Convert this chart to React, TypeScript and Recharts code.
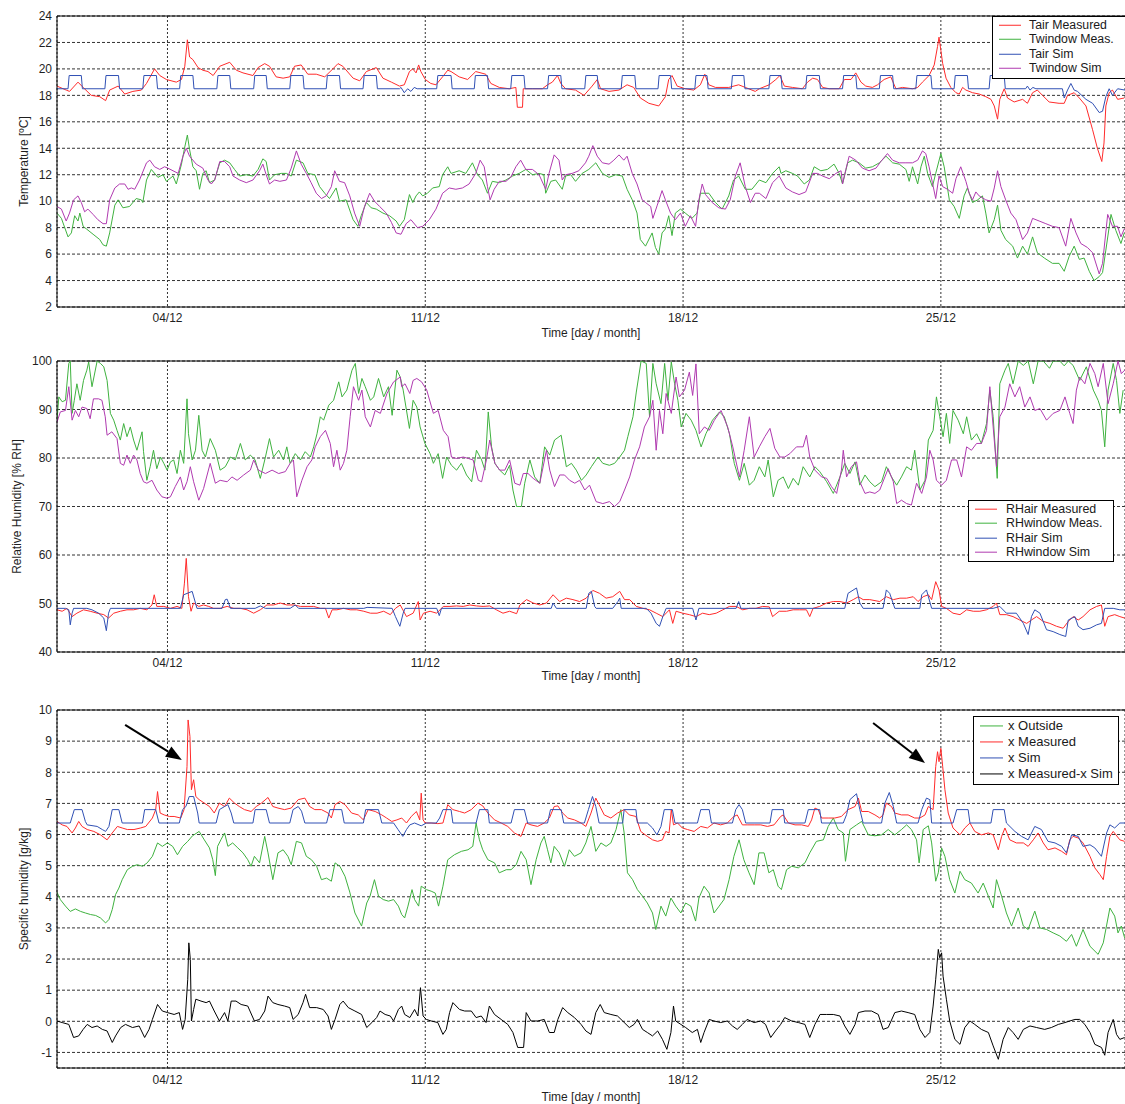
import { LineChart, Line, XAxis, YAxis, CartesianGrid, ReferenceLine, Legend } from 'recharts'

type Pt = [number, number]

const FONT = '"Liberation Sans", Arial, Helvetica, sans-serif'

const RED = '#ff2b2b'
const GREEN = '#3fb23f'
const BLUE = '#3050b4'
const PURPLE = '#b03ab0'
const BLACK = '#000000'

// time axis in days of December
const dayDomain: [number, number] = [1, 30]
const dayTicks = [4, 11, 18, 25]

const tempTicks = [2, 4, 6, 8, 10, 12, 14, 16, 18, 20, 22, 24]
const rhTicks = [40, 50, 60, 70, 80, 90, 100]
const shTicks = [-1, 0, 1, 2, 3, 4, 5, 6, 7, 8, 9, 10]

// ---- temperatures [ºC] ----
const tairMeas: Pt[] = [
  [1.00,18.7],[1.25,18.4],[1.34,18.3],[1.57,19.0],[1.71,18.6],[1.93,18.0],[2.16,17.9],[2.32,17.6],[2.43,18.4],[2.66,18.7],
  [2.84,18.1],[3.06,18.3],[3.29,18.4],[3.43,18.9],[3.65,20.0],[3.79,19.5],[3.97,19.2],[4.24,19.0],[4.38,19.2],[4.47,20.2],
  [4.54,22.2],[4.60,20.9],[4.69,20.7],[4.83,20.1],[4.96,19.9],[5.10,19.8],[5.24,19.5],[5.42,20.2],[5.69,20.5],[5.87,19.9],
  [6.05,19.7],[6.32,19.5],[6.46,20.1],[6.64,20.4],[6.77,20.2],[6.95,19.4],[7.14,19.3],[7.32,19.4],[7.45,20.2],[7.63,20.3],
  [7.81,19.6],[8.04,19.6],[8.27,19.4],[8.49,20.0],[8.63,20.4],[8.76,20.2],[9.04,19.3],[9.22,19.1],[9.40,19.8],[9.67,20.1],
  [9.85,19.3],[10.08,19.0],[10.30,18.7],[10.43,18.8],[10.57,19.8],[10.66,20.0],[10.75,19.7],[10.82,20.3],[10.88,19.8],[11.00,19.2],
  [11.15,18.9],[11.29,18.8],[11.47,19.4],[11.61,19.9],[11.70,19.8],[11.92,19.4],[12.15,19.2],[12.37,19.8],[12.64,19.6],[12.78,18.9],
  [13.01,18.6],[13.28,18.5],[13.46,18.6],[13.50,17.1],[13.64,17.1],[13.66,18.5],[13.91,18.5],[14.18,18.5],[14.32,18.8],[14.45,19.0],
  [14.59,19.5],[14.68,18.9],[14.81,18.5],[15.08,18.4],[15.31,18.0],[15.53,18.7],[15.67,19.2],[15.76,18.5],[15.99,18.3],[16.26,18.4],
  [16.48,18.8],[16.66,18.6],[16.84,17.8],[17.07,17.4],[17.34,17.2],[17.52,17.9],[17.61,19.2],[17.70,19.5],[17.84,18.7],[18.06,18.5],
  [18.29,18.4],[18.47,18.8],[18.59,19.6],[18.70,18.8],[18.88,18.6],[19.24,18.6],[19.51,18.8],[19.69,18.6],[19.96,18.3],[20.07,18.5],
  [20.34,18.8],[20.52,19.2],[20.63,19.5],[20.75,18.7],[20.97,18.6],[21.24,18.5],[21.38,19.0],[21.52,19.3],[21.65,19.2],[21.79,18.6],
  [21.97,18.5],[22.24,18.5],[22.38,19.2],[22.56,19.2],[22.69,19.7],[22.83,19.0],[22.96,18.7],[23.14,18.6],[23.28,18.8],[23.46,19.2],
  [23.64,19.4],[23.78,18.5],[23.96,18.6],[24.23,18.5],[24.37,18.6],[24.50,19.0],[24.68,19.5],[24.82,20.3],[24.91,21.7],[24.95,22.4],
  [25.00,21.4],[25.05,20.4],[25.14,19.3],[25.27,18.6],[25.41,18.2],[25.50,18.1],[25.59,18.6],[25.68,18.4],[25.86,18.2],[26.04,18.1],
  [26.22,17.9],[26.36,17.7],[26.45,17.2],[26.54,16.2],[26.60,17.7],[26.72,18.5],[26.81,17.8],[26.99,17.5],[27.22,17.7],[27.35,17.4],
  [27.49,18.2],[27.62,18.4],[27.76,18.0],[27.94,17.5],[28.21,17.4],[28.35,17.4],[28.44,18.0],[28.62,18.2],[28.76,17.8],[28.94,17.2],
  [29.12,15.4],[29.25,14.0],[29.37,13.0],[29.43,14.4],[29.48,17.2],[29.57,18.2],[29.66,18.4],[29.80,17.7],[29.98,17.8],
]

const twinMeas: Pt[] = [
  [1.00,9.1],[1.12,8.7],[1.30,7.3],[1.39,7.6],[1.48,8.9],[1.57,8.5],[1.62,9.1],[1.71,8.1],[1.80,7.9],[1.98,7.5],
  [2.16,7.1],[2.25,6.7],[2.34,6.6],[2.43,7.6],[2.57,9.7],[2.66,10.1],[2.79,9.5],[2.97,9.6],[3.15,10.2],[3.29,10.1],
  [3.33,9.9],[3.43,11.6],[3.56,12.4],[3.74,11.8],[3.88,12.0],[3.97,11.5],[4.15,11.9],[4.24,11.3],[4.38,12.8],[4.47,14.1],
  [4.54,15.0],[4.60,13.9],[4.69,12.6],[4.78,12.3],[4.87,10.9],[4.96,12.1],[5.05,12.3],[5.14,11.4],[5.28,11.6],[5.42,12.9],
  [5.55,13.1],[5.69,12.9],[5.82,12.4],[5.96,11.9],[6.14,12.0],[6.32,11.9],[6.46,12.4],[6.59,13.2],[6.68,13.0],[6.77,11.6],
  [6.91,12.0],[7.09,12.1],[7.23,12.1],[7.36,11.9],[7.50,13.1],[7.68,12.9],[7.81,12.1],[8.00,12.0],[8.13,11.1],[8.27,10.6],
  [8.40,10.2],[8.58,11.0],[8.67,10.0],[8.85,10.1],[9.04,8.6],[9.17,8.1],[9.26,8.9],[9.40,9.9],[9.53,9.5],[9.67,9.4],
  [9.85,9.1],[10.03,8.9],[10.21,8.5],[10.30,8.1],[10.43,8.6],[10.57,10.5],[10.66,9.9],[10.75,10.4],[10.84,10.7],[10.93,10.4],
  [11.06,10.6],[11.20,11.0],[11.38,11.1],[11.47,12.0],[11.61,12.6],[11.70,12.1],[11.92,12.3],[12.10,12.1],[12.28,12.9],[12.42,12.0],
  [12.55,11.6],[12.69,10.6],[12.82,11.5],[13.01,11.4],[13.19,11.6],[13.37,11.9],[13.55,12.1],[13.73,12.4],[13.91,12.0],[14.09,12.1],
  [14.22,12.0],[14.27,10.6],[14.41,11.5],[14.54,11.6],[14.72,10.9],[14.81,11.9],[14.95,12.0],[15.08,11.5],[15.26,12.1],[15.44,12.4],
  [15.63,12.9],[15.81,12.1],[15.99,11.8],[16.17,12.0],[16.35,11.9],[16.48,10.9],[16.62,10.1],[16.75,9.1],[16.84,7.1],[16.98,6.6],
  [17.16,7.6],[17.25,6.5],[17.34,6.0],[17.43,7.6],[17.52,7.9],[17.61,8.9],[17.70,7.4],[17.79,9.1],[17.93,9.4],[18.06,9.1],
  [18.24,8.7],[18.38,9.1],[18.47,10.6],[18.70,10.6],[18.88,9.9],[19.06,9.4],[19.24,10.4],[19.37,11.6],[19.51,11.9],[19.69,10.9],
  [19.87,10.9],[20.07,11.6],[20.25,11.4],[20.43,12.1],[20.61,12.6],[20.66,12.1],[20.79,12.3],[20.97,12.1],[21.11,11.9],[21.29,11.3],
  [21.43,11.6],[21.56,12.6],[21.74,12.3],[21.92,12.4],[22.10,12.8],[22.24,12.1],[22.33,11.3],[22.47,12.9],[22.60,13.1],[22.78,12.9],
  [22.96,12.5],[23.14,12.6],[23.33,12.9],[23.51,13.4],[23.69,12.9],[23.87,12.8],[24.05,12.4],[24.14,11.5],[24.23,12.6],[24.37,11.3],
  [24.46,12.6],[24.55,13.4],[24.64,12.1],[24.77,11.1],[24.86,12.1],[25.00,13.6],[25.09,12.6],[25.23,10.1],[25.36,9.6],[25.50,8.7],
  [25.63,10.4],[25.72,11.0],[25.86,9.9],[26.00,10.1],[26.13,10.4],[26.22,9.1],[26.31,7.6],[26.45,8.6],[26.54,9.7],[26.63,7.8],
  [26.76,7.1],[26.95,6.6],[27.08,5.7],[27.22,6.6],[27.35,6.0],[27.49,7.3],[27.62,6.1],[27.81,5.7],[28.03,5.3],[28.21,5.3],
  [28.35,4.7],[28.48,5.8],[28.62,6.6],[28.76,5.6],[28.89,5.7],[29.03,4.7],[29.16,4.0],[29.30,4.3],[29.39,4.6],[29.48,6.3],
  [29.62,9.0],[29.75,7.8],[29.89,6.8],[29.98,7.6],
]

// simulated air temperature: heating set-point periods plus free-running stretches
const tairSimLow = 18.5
const tairSimHigh = 19.5
const tairSimHeating: Pt[] = [
  [1.30,1.66],[2.30,2.67],[3.33,3.70],[4.33,4.69],[5.34,5.69],[6.34,6.68],[7.32,7.68],[8.31,8.67],[9.31,9.67],
  [11.31,11.70],[12.33,12.69],[13.32,13.68],[14.32,14.68],[15.33,15.67],[16.32,16.69],[17.32,17.66],[18.32,18.65],
  [19.31,19.65],[20.33,20.66],[21.33,21.70],[22.33,22.69],[23.33,23.69],[24.32,24.73],[25.36,25.72],[26.31,26.72],
]
const tairSimFree: Pt[] = [
  [1.00,18.5],[10.30,18.5],[10.34,18.6],[10.43,18.2],[10.52,18.5],[10.61,18.3],[10.70,18.6],[10.78,18.5],
  [27.30,18.5],[27.35,18.7],[27.42,18.4],[27.50,18.6],[27.58,18.5],[28.30,18.5],[28.35,17.8],[28.44,18.4],
  [28.53,18.9],[28.62,18.4],[28.71,18.3],[28.94,17.7],[29.12,17.4],[29.30,16.7],[29.39,16.8],[29.48,17.9],
  [29.57,18.5],[29.66,18.0],[29.80,18.5],[30.00,18.4],
]

const twinSim: Pt[] = [
  [1.00,9.6],[1.12,9.4],[1.25,8.5],[1.34,9.1],[1.45,10.1],[1.57,10.4],[1.66,9.9],[1.75,9.2],[1.84,9.4],[1.98,9.0],
  [2.11,8.6],[2.25,8.3],[2.34,8.3],[2.43,10.1],[2.57,11.0],[2.70,11.3],[2.84,11.3],[2.93,10.9],[3.02,11.0],[3.11,10.9],
  [3.24,11.6],[3.43,12.9],[3.52,13.1],[3.65,12.6],[3.79,12.4],[3.92,12.6],[4.01,12.5],[4.15,12.3],[4.29,12.1],[4.42,13.4],
  [4.51,14.0],[4.60,13.4],[4.78,12.8],[4.96,12.5],[5.10,11.6],[5.19,11.3],[5.28,11.6],[5.42,13.0],[5.55,13.0],[5.69,12.6],
  [5.78,11.9],[5.96,11.6],[6.14,11.4],[6.32,11.6],[6.50,12.3],[6.59,12.8],[6.68,12.0],[6.77,11.3],[6.91,11.6],[7.05,11.5],
  [7.23,11.6],[7.36,12.5],[7.50,13.8],[7.63,12.8],[7.77,12.1],[7.90,11.4],[8.04,10.6],[8.18,10.2],[8.31,10.4],[8.45,11.1],
  [8.54,12.3],[8.67,11.5],[8.81,11.4],[8.95,10.4],[9.08,9.1],[9.22,8.1],[9.35,9.6],[9.49,10.6],[9.62,10.0],[9.76,9.6],
  [9.94,9.1],[10.08,8.4],[10.21,7.6],[10.34,7.5],[10.48,8.3],[10.61,8.6],[10.79,8.0],[10.93,8.1],[11.11,8.6],[11.29,9.4],
  [11.47,10.6],[11.65,11.0],[11.83,10.9],[12.01,11.0],[12.19,11.3],[12.37,12.1],[12.49,13.1],[12.60,12.6],[12.69,11.1],[12.76,10.1],
  [12.87,10.9],[13.01,11.5],[13.19,11.5],[13.32,11.8],[13.46,12.6],[13.59,13.1],[13.73,12.4],[13.91,12.4],[14.09,12.0],[14.27,10.9],
  [14.36,12.1],[14.50,13.5],[14.63,13.1],[14.72,11.6],[14.81,12.0],[14.99,12.1],[15.17,12.3],[15.35,12.9],[15.44,13.4],[15.55,14.2],
  [15.67,13.4],[15.81,12.9],[15.99,12.8],[16.12,13.1],[16.26,13.5],[16.39,13.1],[16.48,13.4],[16.62,12.1],[16.75,11.3],[16.89,10.1],
  [16.98,9.9],[17.12,9.6],[17.18,8.7],[17.30,9.7],[17.43,10.8],[17.52,10.1],[17.66,9.1],[17.79,8.6],[17.93,9.1],[18.06,8.1],
  [18.20,8.9],[18.34,8.1],[18.43,10.1],[18.52,11.3],[18.61,10.5],[18.79,9.9],[18.97,9.5],[19.15,9.4],[19.28,10.1],[19.42,11.9],
  [19.55,12.9],[19.69,11.1],[19.83,9.9],[19.96,10.6],[20.07,10.6],[20.25,10.2],[20.43,11.4],[20.61,11.9],[20.79,11.0],[20.97,10.7],
  [21.15,10.5],[21.33,10.7],[21.52,12.1],[21.65,12.1],[21.79,11.9],[21.97,11.7],[22.15,12.1],[22.29,12.3],[22.33,11.3],[22.42,12.4],
  [22.51,13.4],[22.69,13.1],[22.87,12.5],[23.05,12.3],[23.24,12.5],[23.37,13.0],[23.55,13.6],[23.69,13.1],[23.87,12.9],[24.05,12.9],
  [24.23,12.9],[24.37,13.1],[24.50,13.8],[24.59,13.6],[24.68,12.6],[24.77,11.4],[24.86,10.2],[24.95,11.9],[25.05,11.1],[25.18,10.9],
  [25.32,10.6],[25.41,11.7],[25.54,12.6],[25.68,11.5],[25.77,10.6],[25.86,10.1],[25.95,10.7],[26.04,10.4],[26.22,10.1],[26.36,10.0],
  [26.45,11.0],[26.54,12.3],[26.63,11.1],[26.76,10.1],[26.90,9.1],[27.04,8.6],[27.22,7.1],[27.35,7.6],[27.49,8.7],[27.67,8.5],
  [27.85,8.3],[28.03,8.1],[28.21,8.0],[28.39,6.6],[28.53,8.7],[28.67,7.6],[28.80,6.8],[28.98,6.5],[29.12,6.1],[29.30,4.5],
  [29.39,5.3],[29.53,9.0],[29.66,8.1],[29.80,8.1],[29.89,7.3],[29.98,7.9],
]

// ---- relative humidity [% RH] ----
const rhAirMeas: Pt[] = [
  [1.00,48.7],[1.14,48.4],[1.27,49.0],[1.41,47.3],[1.54,48.0],[1.72,48.7],[1.90,48.4],[2.09,48.0],[2.27,47.7],[2.40,47.0],
  [2.54,48.0],[2.72,48.4],[2.90,48.7],[3.08,48.7],[3.26,49.0],[3.44,48.7],[3.58,49.7],[3.64,51.8],[3.71,49.4],[3.90,49.4],
  [4.08,49.0],[4.26,49.4],[4.39,49.0],[4.46,54.2],[4.51,59.3],[4.57,51.4],[4.64,48.4],[4.71,50.1],[4.85,49.4],[4.98,49.7],
  [5.12,49.4],[5.25,49.0],[5.43,49.0],[5.62,49.4],[5.80,49.0],[5.98,49.0],[6.16,48.7],[6.34,48.0],[6.52,48.7],[6.70,49.7],
  [6.88,49.7],[7.06,50.1],[7.24,49.7],[7.43,49.7],[7.61,49.4],[7.79,49.4],[7.97,49.4],[8.15,49.0],[8.29,49.0],[8.38,47.0],
  [8.47,48.7],[8.60,48.7],[8.78,49.0],[8.96,48.7],[9.14,48.7],[9.33,48.4],[9.51,48.0],[9.69,48.0],[9.87,48.4],[10.05,47.7],
  [10.19,49.0],[10.32,49.7],[10.49,47.3],[10.67,48.0],[10.81,50.4],[10.86,46.6],[10.95,48.0],[11.13,48.4],[11.31,48.0],[11.49,49.4],
  [11.67,49.4],[11.85,49.5],[12.03,49.4],[12.21,49.7],[12.39,49.5],[12.57,49.4],[12.75,49.5],[12.93,48.7],[13.11,48.0],[13.29,48.4],
  [13.48,47.9],[13.57,49.7],[13.75,50.8],[13.93,50.1],[14.11,49.7],[14.29,50.1],[14.47,51.8],[14.65,50.4],[14.83,51.1],[15.01,50.8],
  [15.19,50.4],[15.37,51.1],[15.55,52.7],[15.73,52.1],[15.91,51.1],[16.09,51.4],[16.28,52.5],[16.41,50.8],[16.55,50.8],[16.73,49.4],
  [16.91,49.0],[17.09,48.7],[17.27,48.0],[17.45,47.3],[17.63,48.7],[17.72,45.9],[17.81,48.4],[17.99,48.0],[18.17,47.7],[18.35,47.3],
  [18.53,48.0],[18.71,47.7],[18.90,48.0],[19.08,48.7],[19.26,49.4],[19.44,49.4],[19.62,48.7],[19.80,49.0],[19.98,49.0],[20.16,49.4],
  [20.34,49.3],[20.43,47.3],[20.61,48.4],[20.81,48.4],[20.99,48.7],[21.17,48.7],[21.35,48.7],[21.44,47.3],[21.53,49.0],[21.71,49.4],
  [21.90,50.1],[22.08,50.4],[22.26,50.4],[22.44,50.1],[22.62,50.8],[22.76,51.4],[22.89,50.8],[23.07,50.8],[23.34,50.4],[23.52,51.4],
  [23.71,50.8],[23.89,51.1],[24.07,51.1],[24.25,51.4],[24.38,50.4],[24.52,51.4],[24.66,51.8],[24.75,50.8],[24.86,54.5],[24.95,52.8],
  [25.02,49.4],[25.15,49.0],[25.33,48.0],[25.52,47.7],[25.70,48.7],[25.88,48.4],[26.06,48.4],[26.24,48.7],[26.42,49.4],[26.51,50.1],
  [26.60,47.7],[26.78,47.7],[26.96,47.3],[27.14,46.6],[27.33,45.9],[27.46,46.6],[27.60,47.3],[27.78,46.3],[27.96,45.9],[28.14,45.3],
  [28.32,44.9],[28.46,46.3],[28.59,47.3],[28.73,46.6],[28.86,47.3],[29.05,48.7],[29.23,49.4],[29.36,49.7],[29.45,45.3],[29.54,47.3],
  [29.72,47.7],[29.86,47.3],[29.99,47.0],
]

const rhWinMeas: Pt[] = [
  [1.00,87.8],[1.05,92.6],[1.14,91.6],[1.23,91.9],[1.32,99.5],[1.36,100],[1.41,89.2],[1.47,91.9],[1.54,95.3],[1.63,91.9],
  [1.72,96.0],[1.81,98.1],[1.86,99.8],[1.95,94.7],[2.09,100],[2.18,99.5],[2.27,98.8],[2.36,96.0],[2.45,89.2],[2.54,87.8],
  [2.63,85.7],[2.72,83.7],[2.81,87.1],[2.90,84.4],[2.99,86.4],[3.08,83.7],[3.17,81.6],[3.31,85.4],[3.35,81.3],[3.44,75.4],
  [3.53,78.2],[3.62,81.6],[3.71,77.8],[3.81,80.2],[3.90,78.9],[3.99,77.5],[4.08,79.2],[4.17,79.6],[4.26,76.8],[4.35,81.6],
  [4.44,78.9],[4.53,92.2],[4.57,85.0],[4.67,79.6],[4.76,81.6],[4.85,88.8],[4.94,81.6],[5.03,80.2],[5.16,84.0],[5.30,81.6],
  [5.43,77.5],[5.57,78.2],[5.71,80.2],[5.84,79.6],[5.98,83.0],[6.11,79.6],[6.25,80.6],[6.38,79.6],[6.52,75.8],[6.66,80.2],
  [6.77,84.0],[6.88,80.2],[7.02,81.6],[7.15,79.6],[7.24,82.3],[7.33,78.9],[7.47,80.9],[7.61,79.6],[7.74,81.3],[7.88,80.2],
  [7.97,82.3],[8.06,85.0],[8.15,88.5],[8.24,87.8],[8.38,90.9],[8.51,91.9],[8.65,95.7],[8.74,92.6],[8.87,94.0],[9.01,98.1],
  [9.10,99.5],[9.19,93.3],[9.28,96.4],[9.37,94.7],[9.51,91.9],[9.60,92.6],[9.73,96.4],[9.87,92.6],[10.00,94.7],[10.10,88.8],
  [10.23,98.1],[10.32,96.7],[10.40,94.0],[10.57,86.1],[10.67,91.9],[10.77,90.5],[10.86,86.4],[10.99,83.0],[11.13,80.9],[11.22,78.9],
  [11.35,80.9],[11.47,75.8],[11.58,80.2],[11.71,78.5],[11.85,77.5],[11.98,78.9],[12.12,76.5],[12.26,75.1],[12.39,81.6],[12.53,79.6],
  [12.62,77.5],[12.71,89.5],[12.80,82.3],[12.89,78.9],[13.02,77.5],[13.16,76.5],[13.29,78.5],[13.38,73.4],[13.48,70.0],[13.61,70.0],
  [13.70,74.8],[13.84,79.6],[13.97,76.1],[14.11,74.8],[14.24,82.3],[14.38,80.6],[14.51,83.7],[14.69,84.7],[14.83,78.2],[14.97,78.9],
  [15.10,77.5],[15.24,75.4],[15.37,76.5],[15.51,78.2],[15.69,80.2],[15.82,78.9],[16.00,78.5],[16.14,78.9],[16.28,80.2],[16.41,81.6],
  [16.50,84.4],[16.64,88.5],[16.73,93.6],[16.86,100],[17.00,99.5],[17.09,88.5],[17.18,99.5],[17.27,95.3],[17.40,91.2],[17.50,99.5],
  [17.59,91.9],[17.68,99.8],[17.77,95.3],[17.86,91.9],[17.95,86.4],[18.08,89.2],[18.22,87.8],[18.35,85.7],[18.49,82.3],[18.62,85.0],
  [18.80,87.8],[18.99,89.5],[19.12,88.5],[19.26,85.0],[19.39,78.9],[19.53,75.4],[19.66,78.9],[19.80,74.4],[19.93,75.4],[20.07,78.2],
  [20.22,76.1],[20.31,79.6],[20.45,72.0],[20.58,75.4],[20.72,76.1],[20.86,73.7],[20.99,75.8],[21.13,74.4],[21.26,78.2],[21.44,76.1],
  [21.58,78.2],[21.71,77.2],[21.90,75.1],[22.08,72.7],[22.26,76.1],[22.39,78.9],[22.53,76.8],[22.67,79.2],[22.80,74.4],[22.94,76.5],
  [23.07,75.1],[23.21,74.1],[23.39,75.1],[23.52,78.2],[23.66,76.1],[23.80,74.4],[23.93,76.1],[24.07,78.2],[24.20,77.5],[24.29,81.6],
  [24.43,73.4],[24.57,75.4],[24.66,83.7],[24.79,85.7],[24.88,92.6],[24.97,88.5],[25.06,84.4],[25.15,89.2],[25.24,83.0],[25.33,89.8],
  [25.47,87.8],[25.61,85.0],[25.70,88.5],[25.83,83.7],[25.97,85.0],[26.10,83.0],[26.24,87.1],[26.33,94.0],[26.42,88.5],[26.53,75.8],
  [26.60,95.3],[26.74,98.1],[26.83,99.5],[26.96,95.3],[27.10,100],[27.24,99.1],[27.37,100],[27.51,95.3],[27.64,100],[27.78,100],
  [27.95,98.5],[28.05,100],[28.23,100],[28.35,99.0],[28.46,100],[28.59,99.1],[28.77,96.0],[28.95,98.8],[29.14,94.0],[29.27,91.9],
  [29.36,89.8],[29.45,82.3],[29.54,94.0],[29.68,99.5],[29.77,96.0],[29.86,89.2],[29.95,94.0],
]

const rhAirSim: Pt[] = [
  [1.00,49.0],[1.23,49.0],[1.32,48.7],[1.36,45.6],[1.41,48.0],[1.45,49.0],[1.81,49.0],[1.95,48.7],[2.13,48.0],[2.27,47.0],
  [2.34,44.4],[2.40,48.0],[2.45,49.0],[4.35,49.0],[4.44,51.8],[4.67,52.5],[4.76,50.1],[4.80,49.0],[5.48,49.0],[5.57,50.8],
  [5.62,50.9],[5.71,49.0],[6.38,49.0],[6.52,49.5],[6.66,49.0],[7.33,49.0],[7.47,49.7],[7.56,49.0],[9.33,49.0],[9.42,49.2],
  [10.10,49.0],[10.19,47.3],[10.31,45.3],[10.40,48.0],[10.45,49.0],[11.31,49.0],[11.38,47.5],[11.44,49.0],[14.42,49.0],[14.47,50.1],
  [14.56,49.0],[15.37,49.0],[15.44,52.1],[15.51,52.5],[15.60,49.4],[15.64,49.0],[16.09,49.0],[16.23,50.4],[16.28,51.1],[16.32,49.0],
  [17.00,49.0],[17.13,48.0],[17.27,45.9],[17.36,45.3],[17.45,47.3],[17.54,49.0],[18.26,49.0],[18.35,46.6],[18.43,49.0],[19.44,49.0],
  [19.51,50.4],[19.57,49.0],[22.39,49.0],[22.48,52.1],[22.71,53.2],[22.80,50.1],[22.89,49.0],[23.43,49.0],[23.52,52.8],[23.61,52.1],
  [23.75,49.0],[24.43,49.0],[24.48,51.8],[24.61,52.8],[24.75,49.0],[26.42,49.0],[26.60,49.4],[26.78,48.0],[27.05,48.0],[27.24,45.9],
  [27.37,43.6],[27.46,47.3],[27.55,48.7],[27.69,48.0],[27.87,44.6],[28.05,44.2],[28.23,43.6],[28.39,43.2],[28.46,46.6],[28.64,47.3],
  [28.73,45.3],[28.86,44.6],[29.05,44.9],[29.23,45.6],[29.36,45.9],[29.45,49.0],[29.68,49.0],[29.86,48.7],[29.99,48.7],
]

const rhWinSim: Pt[] = [
  [1.00,87.4],[1.09,89.5],[1.23,89.8],[1.32,94.7],[1.41,87.8],[1.50,89.8],[1.59,88.5],[1.68,90.5],[1.81,90.2],[1.90,88.1],
  [1.99,92.2],[2.13,92.2],[2.22,91.9],[2.31,88.5],[2.36,84.7],[2.49,85.4],[2.63,84.0],[2.72,78.9],[2.81,78.5],[2.90,80.6],
  [2.99,78.9],[3.08,80.6],[3.17,79.6],[3.26,76.8],[3.35,75.1],[3.44,74.8],[3.58,75.4],[3.71,73.4],[3.85,72.0],[3.99,71.7],
  [4.08,72.0],[4.21,74.1],[4.35,76.1],[4.44,73.4],[4.53,75.1],[4.62,78.2],[4.71,75.1],[4.85,71.3],[4.98,73.7],[5.16,78.9],
  [5.30,74.8],[5.43,75.4],[5.62,75.1],[5.75,76.1],[5.89,75.4],[6.07,76.5],[6.25,77.5],[6.34,79.6],[6.47,77.5],[6.66,76.8],
  [6.84,77.5],[7.02,76.8],[7.20,77.2],[7.33,78.9],[7.42,79.6],[7.51,72.0],[7.65,75.4],[7.79,78.2],[7.92,79.6],[8.01,82.3],
  [8.15,84.4],[8.29,85.7],[8.42,83.0],[8.51,78.2],[8.60,81.6],[8.69,77.5],[8.78,78.9],[8.87,81.6],[8.96,88.5],[9.05,94.7],
  [9.19,91.9],[9.28,94.0],[9.37,88.5],[9.51,86.4],[9.64,89.8],[9.78,89.2],[9.96,93.3],[10.14,95.7],[10.32,96.7],[10.36,94.7],
  [10.45,95.3],[10.58,93.3],[10.67,96.0],[10.77,96.4],[10.90,95.7],[11.04,94.0],[11.22,89.2],[11.35,89.8],[11.49,85.7],[11.62,84.4],
  [11.71,80.2],[11.85,79.9],[12.03,80.2],[12.17,79.9],[12.30,79.6],[12.44,75.4],[12.53,75.1],[12.66,79.6],[12.75,83.7],[12.89,78.9],
  [13.02,77.5],[13.16,77.5],[13.29,79.6],[13.43,74.8],[13.57,74.4],[13.66,76.8],[13.79,76.8],[13.93,75.8],[14.11,74.8],[14.29,81.6],
  [14.38,77.5],[14.51,74.1],[14.65,76.5],[14.78,76.5],[14.92,75.4],[15.06,74.8],[15.19,75.4],[15.33,73.4],[15.46,74.4],[15.64,71.0],
  [15.82,70.6],[16.00,71.0],[16.14,70.0],[16.28,71.0],[16.41,73.4],[16.55,76.1],[16.68,79.6],[16.82,82.3],[16.95,86.4],[17.09,88.5],
  [17.18,91.9],[17.27,81.6],[17.36,89.8],[17.45,85.0],[17.54,93.3],[17.68,89.2],[17.81,96.7],[17.90,92.6],[18.04,94.0],[18.17,97.7],
  [18.26,92.9],[18.35,99.4],[18.44,85.0],[18.58,86.4],[18.71,85.7],[18.85,87.8],[19.03,89.8],[19.21,86.4],[19.35,82.3],[19.53,76.1],
  [19.66,81.6],[19.80,88.5],[19.93,80.2],[20.07,82.3],[20.22,84.4],[20.36,86.1],[20.49,82.0],[20.63,80.2],[20.76,80.2],[20.90,80.9],
  [21.08,82.3],[21.26,82.3],[21.35,84.7],[21.44,80.2],[21.58,77.5],[21.76,76.1],[21.90,75.8],[22.03,74.1],[22.17,72.7],[22.30,77.5],
  [22.35,81.6],[22.44,76.1],[22.57,78.2],[22.71,79.2],[22.80,75.1],[22.94,72.7],[23.07,73.0],[23.21,72.7],[23.34,73.4],[23.48,76.1],
  [23.57,77.8],[23.71,75.1],[23.80,70.6],[23.93,71.3],[24.07,70.6],[24.20,70.3],[24.34,74.8],[24.48,72.7],[24.61,76.1],[24.70,81.6],
  [24.79,79.6],[24.88,75.4],[25.02,74.4],[25.15,75.4],[25.29,79.6],[25.43,79.6],[25.56,76.1],[25.70,82.3],[25.83,81.6],[25.97,83.0],
  [26.10,83.0],[26.24,85.7],[26.33,94.7],[26.42,86.4],[26.51,78.2],[26.60,88.5],[26.74,90.5],[26.87,95.3],[27.01,92.6],[27.14,94.7],
  [27.28,90.5],[27.42,92.6],[27.55,89.8],[27.69,90.2],[27.87,87.8],[28.05,89.2],[28.23,89.8],[28.37,92.6],[28.50,89.2],[28.59,87.1],
  [28.68,94.0],[28.77,96.7],[28.91,95.3],[29.05,99.5],[29.18,97.4],[29.27,94.7],[29.41,99.5],[29.54,91.2],[29.68,95.3],[29.81,100],
  [29.90,97.4],[29.99,98.1],
]

// ---- specific humidity [g/kg] ----
const xOutside: Pt[] = [
  [1.00,4.15],[1.09,3.91],[1.23,3.70],[1.36,3.53],[1.50,3.61],[1.64,3.53],[1.77,3.48],[1.91,3.43],[2.05,3.40],[2.18,3.32],
  [2.32,3.16],[2.41,3.27],[2.50,3.59],[2.59,4.07],[2.68,4.28],[2.77,4.55],[2.91,4.87],[3.05,4.98],[3.18,5.03],[3.32,4.98],
  [3.45,5.09],[3.59,5.30],[3.73,5.73],[3.86,5.62],[4.00,5.73],[4.14,5.62],[4.27,5.35],[4.41,5.62],[4.55,5.78],[4.68,5.96],
  [4.86,6.10],[5.00,5.83],[5.14,5.57],[5.23,5.19],[5.30,4.68],[5.36,5.62],[5.45,5.83],[5.55,6.05],[5.64,5.62],[5.77,5.73],
  [5.91,5.57],[6.05,5.41],[6.18,5.19],[6.27,4.98],[6.36,5.30],[6.50,5.09],[6.64,5.94],[6.73,5.41],[6.86,4.55],[7.00,5.41],
  [7.14,5.51],[7.27,5.30],[7.36,5.03],[7.50,5.78],[7.64,5.73],[7.77,5.30],[7.91,5.19],[8.05,4.98],[8.18,4.55],[8.32,4.60],
  [8.45,4.50],[8.55,5.09],[8.68,4.98],[8.82,4.66],[8.95,4.15],[9.09,3.48],[9.27,3.06],[9.41,3.80],[9.50,4.02],[9.62,4.55],
  [9.73,4.02],[9.86,3.91],[10.00,3.86],[10.14,3.91],[10.27,3.70],[10.36,3.43],[10.44,3.32],[10.53,3.70],[10.64,4.23],[10.71,3.91],
  [10.82,3.70],[10.89,4.34],[11.03,4.23],[11.16,4.18],[11.27,4.12],[11.36,3.70],[11.48,4.34],[11.61,5.19],[11.79,5.35],[11.98,5.46],
  [12.16,5.51],[12.29,5.62],[12.38,6.37],[12.47,5.83],[12.56,5.51],[12.70,5.19],[12.88,5.09],[13.01,4.77],[13.20,4.87],[13.33,4.87],
  [13.47,5.03],[13.60,5.46],[13.74,5.19],[13.87,4.39],[14.01,5.19],[14.14,5.73],[14.23,5.94],[14.32,5.51],[14.41,5.09],[14.50,5.62],
  [14.64,5.41],[14.78,4.98],[14.91,5.51],[15.05,5.30],[15.23,5.41],[15.36,5.73],[15.50,6.26],[15.63,5.46],[15.77,5.73],[15.91,5.62],
  [16.04,5.73],[16.18,6.16],[16.31,6.80],[16.40,6.05],[16.49,4.77],[16.63,4.55],[16.76,4.23],[16.90,4.02],[17.03,3.80],[17.17,3.48],
  [17.26,2.95],[17.40,3.70],[17.53,3.38],[17.67,3.96],[17.80,3.70],[17.94,3.48],[18.07,3.80],[18.21,3.70],[18.34,3.22],[18.43,3.96],
  [18.57,4.34],[18.71,4.12],[18.84,3.48],[18.98,3.70],[19.11,3.91],[19.25,4.55],[19.38,5.30],[19.52,5.83],[19.65,5.19],[19.79,4.77],
  [19.93,4.39],[20.06,5.41],[20.20,5.41],[20.33,4.77],[20.45,4.87],[20.58,4.34],[20.67,4.23],[20.81,4.87],[20.95,4.98],[21.13,4.93],
  [21.31,5.09],[21.44,5.41],[21.62,5.78],[21.81,5.83],[21.94,6.26],[22.08,6.53],[22.21,6.16],[22.35,6.05],[22.41,5.14],[22.53,6.16],
  [22.71,6.31],[22.85,6.42],[23.03,5.99],[23.21,5.96],[23.39,5.99],[23.57,6.16],[23.75,5.99],[23.93,6.16],[24.07,6.31],[24.20,6.16],
  [24.34,5.83],[24.41,5.09],[24.52,6.16],[24.66,6.28],[24.75,5.73],[24.86,4.50],[24.93,4.77],[25.02,5.57],[25.11,5.30],[25.24,4.55],
  [25.38,4.12],[25.52,4.82],[25.65,4.55],[25.83,4.44],[26.01,4.12],[26.15,4.44],[26.29,4.02],[26.42,3.64],[26.51,4.55],[26.65,4.02],
  [26.78,3.48],[26.92,3.06],[27.10,3.64],[27.24,3.06],[27.37,2.95],[27.55,3.54],[27.69,3.00],[27.87,2.95],[28.05,2.84],[28.23,2.74],
  [28.41,2.57],[28.55,2.79],[28.68,2.41],[28.86,2.95],[29.05,2.41],[29.27,2.15],[29.41,2.52],[29.59,3.64],[29.72,3.38],[29.81,2.84],
  [29.90,3.06],[29.99,2.68],
]

const xMeas: Pt[] = [
  [1.00,6.42],[1.14,6.31],[1.27,6.26],[1.41,6.05],[1.50,6.21],[1.59,6.42],[1.68,6.26],[1.82,6.16],[2.00,6.10],[2.18,5.99],
  [2.36,5.83],[2.50,6.05],[2.64,6.26],[2.77,6.21],[2.91,6.16],[3.09,6.16],[3.27,6.21],[3.41,6.26],[3.59,6.53],[3.68,6.80],
  [3.73,7.38],[3.80,6.69],[3.91,6.63],[4.05,6.58],[4.18,6.58],[4.36,6.53],[4.45,6.80],[4.53,8.18],[4.56,9.68],[4.61,9.15],
  [4.65,7.44],[4.71,7.76],[4.77,7.22],[4.86,7.12],[5.00,7.01],[5.14,6.90],[5.27,6.69],[5.41,7.01],[5.55,6.90],[5.68,7.17],
  [5.82,7.01],[5.95,6.90],[6.09,6.80],[6.27,6.74],[6.41,6.90],[6.55,7.01],[6.73,7.19],[6.86,6.90],[7.00,6.85],[7.18,6.80],
  [7.36,6.85],[7.55,7.12],[7.73,7.17],[7.86,6.90],[8.00,6.80],[8.18,6.80],[8.36,6.69],[8.45,6.53],[8.55,6.96],[8.68,7.06],
  [8.82,6.96],[9.00,6.69],[9.18,6.63],[9.32,6.47],[9.45,6.80],[9.64,6.74],[9.82,6.63],[9.95,6.53],[10.09,6.42],[10.23,6.47],
  [10.36,6.53],[10.49,6.37],[10.62,6.58],[10.76,6.74],[10.85,6.47],[10.89,7.33],[10.94,6.47],[11.00,6.37],[11.16,6.37],[11.34,6.35],
  [11.48,6.37],[11.61,6.96],[11.75,6.80],[11.93,6.74],[12.07,6.69],[12.25,6.80],[12.43,7.01],[12.56,6.92],[12.70,6.69],[12.88,6.47],
  [13.06,6.37],[13.24,6.26],[13.42,6.05],[13.60,5.94],[13.74,6.37],[13.87,6.31],[14.05,6.26],[14.23,6.37],[14.37,6.53],[14.50,6.90],
  [14.60,6.92],[14.73,6.69],[14.87,6.53],[15.05,6.47],[15.23,6.37],[15.36,6.26],[15.50,6.69],[15.63,7.17],[15.72,6.96],[15.86,6.63],
  [16.04,6.53],[16.22,6.69],[16.40,6.80],[16.54,6.63],[16.72,6.58],[16.85,6.10],[17.03,5.94],[17.17,5.83],[17.31,5.78],[17.44,5.83],
  [17.53,6.10],[17.62,6.05],[17.68,6.80],[17.74,6.31],[17.85,6.37],[17.98,6.21],[18.12,6.16],[18.30,6.10],[18.48,6.26],[18.66,6.21],
  [18.84,6.37],[19.02,6.31],[19.20,6.37],[19.38,6.58],[19.47,6.63],[19.61,6.31],[19.74,6.31],[19.93,6.31],[20.11,6.31],[20.29,6.26],
  [20.47,6.31],[20.65,6.58],[20.72,6.63],[20.86,6.37],[21.04,6.31],[21.22,6.31],[21.40,6.26],[21.49,6.47],[21.58,6.85],[21.67,6.80],
  [21.76,6.53],[21.94,6.53],[22.12,6.53],[22.30,6.58],[22.48,6.80],[22.67,6.90],[22.76,7.17],[22.85,6.74],[23.03,6.74],[23.21,6.63],
  [23.34,6.53],[23.43,6.63],[23.52,7.01],[23.66,6.90],[23.75,6.69],[23.93,6.63],[24.11,6.63],[24.29,6.53],[24.43,6.53],[24.57,6.63],
  [24.66,6.90],[24.79,6.80],[24.86,8.18],[24.91,8.66],[24.95,8.34],[25.00,8.77],[25.05,8.18],[25.11,7.44],[25.20,6.69],[25.33,6.21],
  [25.52,5.99],[25.65,6.21],[25.79,6.37],[25.92,6.10],[26.10,5.99],[26.29,6.05],[26.42,5.99],[26.56,5.51],[26.65,5.94],[26.74,6.21],
  [26.87,5.83],[27.05,5.73],[27.24,5.73],[27.37,5.62],[27.51,5.83],[27.64,6.05],[27.78,5.73],[27.91,5.51],[28.10,5.57],[28.28,5.46],
  [28.41,5.35],[28.50,5.83],[28.59,5.94],[28.73,5.89],[28.86,5.73],[29.05,5.30],[29.18,4.93],[29.32,4.71],[29.41,4.55],[29.50,5.30],
  [29.59,5.94],[29.68,6.10],[29.86,5.83],[29.99,5.78],
]

const xSim: Pt[] = [
  [1.00,6.37],[1.36,6.37],[1.47,6.80],[1.68,6.80],[1.77,6.42],[1.82,6.31],[2.09,6.26],[2.23,6.16],[2.32,6.10],[2.41,6.26],
  [2.50,6.80],[2.68,6.80],[2.77,6.37],[3.32,6.37],[3.38,6.80],[3.68,6.80],[3.77,6.37],[4.32,6.37],[4.41,6.80],[4.50,6.90],
  [4.59,7.22],[4.71,7.22],[4.82,6.69],[4.86,6.37],[5.32,6.37],[5.41,6.80],[5.55,6.90],[5.64,6.96],[5.73,6.69],[5.80,6.37],
  [6.32,6.37],[6.38,6.80],[6.68,6.80],[6.77,6.37],[7.32,6.37],[7.41,6.80],[7.55,6.90],[7.64,6.75],[7.73,6.37],[8.32,6.37],
  [8.41,6.80],[8.73,6.80],[8.80,6.37],[9.32,6.37],[9.38,6.80],[9.73,6.80],[9.82,6.37],[10.14,6.37],[10.26,6.16],[10.39,5.94],
  [10.49,6.16],[10.58,6.31],[10.71,6.37],[10.89,6.28],[11.03,6.37],[11.30,6.37],[11.39,6.53],[11.48,6.80],[11.70,6.80],[11.75,6.37],
  [12.38,6.37],[12.47,6.80],[12.70,6.80],[12.74,6.37],[13.33,6.37],[13.42,6.80],[13.69,6.80],[13.78,6.37],[14.32,6.37],[14.40,6.80],
  [14.69,6.80],[14.76,6.37],[15.32,6.37],[15.43,6.80],[15.54,7.22],[15.63,6.90],[15.72,6.37],[16.36,6.37],[16.40,6.80],[16.72,6.80],
  [16.76,6.37],[17.03,6.37],[17.17,6.21],[17.29,5.99],[17.40,6.26],[17.49,6.80],[17.71,6.80],[17.78,6.37],[18.39,6.37],[18.48,6.80],
  [18.71,6.80],[18.77,6.37],[19.34,6.37],[19.43,6.80],[19.52,6.96],[19.61,6.80],[19.70,6.37],[20.36,6.37],[20.42,6.80],[20.72,6.80],
  [20.76,6.37],[21.31,6.37],[21.40,6.80],[21.71,6.80],[21.76,6.37],[22.35,6.37],[22.44,6.64],[22.53,7.12],[22.71,7.31],[22.80,6.80],
  [22.89,6.37],[23.39,6.37],[23.48,7.01],[23.60,7.35],[23.71,6.90],[23.80,6.37],[24.38,6.37],[24.48,6.80],[24.61,7.17],[24.70,7.12],
  [24.75,6.37],[25.33,6.37],[25.43,6.80],[25.74,6.80],[25.79,6.37],[26.36,6.37],[26.42,6.80],[26.72,6.80],[26.78,6.37],[27.01,6.10],
  [27.19,5.94],[27.37,5.83],[27.55,6.26],[27.73,6.16],[27.91,5.78],[28.10,5.73],[28.28,5.62],[28.41,5.41],[28.55,5.99],[28.73,5.94],
  [28.86,5.62],[29.05,5.67],[29.18,5.57],[29.36,5.30],[29.50,6.05],[29.59,6.31],[29.72,6.21],[29.86,6.37],[30.00,6.37],
]

const xDiff: Pt[] = [
  [1.00,0.01],[1.14,-0.04],[1.32,-0.10],[1.45,-0.52],[1.59,-0.47],[1.71,-0.26],[1.82,-0.10],[1.95,-0.20],[2.09,-0.15],[2.23,-0.26],
  [2.36,-0.31],[2.50,-0.68],[2.59,-0.47],[2.73,-0.20],[2.86,-0.10],[3.05,-0.20],[3.23,-0.15],[3.38,-0.52],[3.50,-0.26],[3.59,0.06],
  [3.73,0.54],[3.86,0.33],[4.00,0.28],[4.18,0.22],[4.32,0.28],[4.41,-0.26],[4.48,0.06],[4.55,1.35],[4.58,2.52],[4.62,1.99],
  [4.65,0.01],[4.71,0.38],[4.77,0.71],[4.91,0.65],[5.05,0.60],[5.14,0.65],[5.27,0.33],[5.41,0.01],[5.55,0.28],[5.64,0.01],
  [5.73,0.65],[5.86,0.65],[6.00,0.54],[6.18,0.49],[6.36,0.01],[6.50,0.06],[6.64,0.33],[6.73,0.81],[6.86,0.60],[7.00,0.54],
  [7.18,0.49],[7.32,0.44],[7.41,0.06],[7.55,0.22],[7.68,0.60],[7.75,0.87],[7.86,0.44],[8.05,0.44],[8.23,0.38],[8.36,0.17],
  [8.45,-0.26],[8.55,0.06],[8.68,0.54],[8.77,0.65],[8.91,0.44],[9.09,0.33],[9.27,0.22],[9.41,-0.20],[9.55,-0.04],[9.68,0.12],
  [9.77,0.33],[9.91,0.22],[10.05,0.17],[10.14,0.01],[10.27,0.38],[10.36,0.49],[10.44,0.22],[10.58,0.12],[10.71,0.38],[10.80,0.17],
  [10.87,1.08],[10.94,0.17],[11.03,0.06],[11.16,0.01],[11.34,-0.04],[11.48,-0.42],[11.57,-0.26],[11.66,0.28],[11.75,0.60],[11.93,0.38],
  [12.07,0.33],[12.25,0.33],[12.38,0.12],[12.52,0.17],[12.65,-0.04],[12.74,0.49],[12.88,0.22],[13.06,0.06],[13.24,-0.10],[13.38,-0.36],
  [13.51,-0.84],[13.67,-0.84],[13.74,0.28],[13.87,0.01],[14.05,0.01],[14.23,0.06],[14.37,-0.36],[14.50,-0.36],[14.60,0.06],[14.73,0.44],
  [14.87,0.28],[15.05,0.12],[15.23,-0.10],[15.36,-0.31],[15.50,-0.42],[15.63,0.28],[15.75,0.54],[15.86,0.28],[16.04,0.22],[16.22,0.17],
  [16.36,0.01],[16.54,-0.20],[16.67,-0.10],[16.76,0.06],[16.90,-0.26],[17.03,-0.36],[17.17,-0.47],[17.31,-0.31],[17.44,-0.58],[17.56,-0.90],
  [17.67,-0.36],[17.74,0.49],[17.80,0.01],[17.94,-0.10],[18.07,-0.20],[18.25,-0.36],[18.39,-0.26],[18.48,-0.68],[18.57,-0.36],[18.71,0.06],
  [18.84,0.01],[19.02,-0.04],[19.20,0.01],[19.34,-0.15],[19.47,-0.26],[19.61,-0.10],[19.74,0.06],[19.93,-0.04],[20.11,0.01],[20.24,-0.10],
  [20.38,-0.52],[20.51,-0.31],[20.65,-0.10],[20.76,0.12],[20.95,0.01],[21.13,-0.04],[21.31,-0.10],[21.44,-0.52],[21.58,-0.10],[21.72,0.22],
  [21.90,0.22],[22.08,0.22],[22.26,0.17],[22.39,-0.15],[22.53,-0.42],[22.67,-0.10],[22.76,0.28],[22.94,0.33],[23.12,0.33],[23.30,0.22],
  [23.43,-0.26],[23.57,-0.20],[23.75,0.28],[23.93,0.33],[24.11,0.28],[24.29,0.22],[24.43,-0.26],[24.57,-0.52],[24.70,-0.36],[24.79,0.49],
  [24.86,1.35],[24.93,2.31],[24.97,2.04],[25.02,2.20],[25.06,1.45],[25.15,0.71],[25.24,0.01],[25.38,-0.58],[25.52,-0.74],[25.65,-0.20],
  [25.79,0.01],[25.92,-0.10],[26.10,-0.26],[26.29,-0.36],[26.42,-0.79],[26.56,-1.22],[26.69,-0.58],[26.83,-0.20],[26.96,-0.36],[27.10,-0.58],
  [27.24,-0.26],[27.42,-0.15],[27.60,-0.20],[27.82,-0.26],[28.00,-0.20],[28.19,-0.10],[28.37,-0.04],[28.50,0.01],[28.64,0.06],[28.77,0.06],
  [28.91,-0.10],[29.05,-0.36],[29.18,-0.74],[29.36,-0.84],[29.45,-1.09],[29.54,-0.36],[29.68,0.06],[29.77,-0.42],[29.86,-0.58],[29.99,-0.52],
]

// arrows pointing at the two moisture peaks (day, g/kg)
const peakArrows = [
  { from: { x: 2.85, y: 9.52 }, to: { x: 4.39, y: 8.39 } },
  { from: { x: 23.16, y: 9.58 }, to: { x: 24.57, y: 8.30 } },
]

function heatingProfile(on: Pt[], low: number, high: number, free: Pt[]): Pt[] {
  const pts: Pt[] = [...free]
  on.forEach(([s, e]) => {
    pts.push([s, low], [s + 0.03, high], [e, high], [e + 0.03, low])
  })
  return pts.sort((a, b) => a[0] - b[0])
}

const tairSim = heatingProfile(tairSimHeating, tairSimLow, tairSimHigh, tairSimFree)

const toRows = (pts: Pt[]) => pts.map(([day, value]) => ({ day, value }))

const fmtDay = (d: number) => `${d < 10 ? '0' : ''}${d}/12`

interface Series { name: string; color: string; points: Pt[] }
interface LegendSpec {
  left: number; top: number; width: number; height: number
  padTop: number; rowH: number; lineX1: number; lineX2: number; textX: number; fontSize: number
}
interface ArrowSpec { from: { x: number; y: number }; to: { x: number; y: number } }

function LegendBox({ series, spec }: { series: Series[]; spec: LegendSpec }) {
  return (
    <div
      style={{
        position: 'relative', width: spec.width, height: spec.height, boxSizing: 'border-box',
        border: '1px solid #000', background: '#fff', fontFamily: FONT, fontSize: spec.fontSize, color: '#1a1a1a',
      }}
    >
      {series.map((s, i) => (
        <div key={s.name} style={{ position: 'absolute', left: 0, top: spec.padTop + i * spec.rowH, height: spec.rowH, width: '100%' }}>
          <svg width={spec.lineX2 + 2} height={spec.rowH} style={{ position: 'absolute', left: 0, top: 0 }}>
            <line x1={spec.lineX1} x2={spec.lineX2} y1={spec.rowH / 2} y2={spec.rowH / 2} stroke={s.color} strokeWidth={1} />
          </svg>
          <span style={{ position: 'absolute', left: spec.textX, top: 0, lineHeight: `${spec.rowH}px`, whiteSpace: 'nowrap' }}>
            {s.name}
          </span>
        </div>
      ))}
    </div>
  )
}

function ArrowShape(props: any) {
  const { x1, y1, x2, y2 } = props
  const a = Math.atan2(y2 - y1, x2 - x1)
  const len = 16
  const half = 6
  const bx = x2 - len * Math.cos(a)
  const by = y2 - len * Math.sin(a)
  const px = -Math.sin(a) * half
  const py = Math.cos(a) * half
  return (
    <g>
      <line x1={x1} y1={y1} x2={bx} y2={by} stroke="#000" strokeWidth={2} />
      <polygon points={`${x2},${y2} ${bx + px},${by + py} ${bx - px},${by - py}`} fill="#000" />
    </g>
  )
}

const tickStyle = { fontSize: 12, fill: '#1f1f1f', fontFamily: FONT }

const xTitle = (dy: number) => (props: any) => {
  const vb = props.viewBox
  return (
    <text x={vb.x + vb.width / 2} y={vb.y + dy} textAnchor="middle" dominantBaseline="central"
      fontSize={12} fontFamily={FONT} fill="#1f1f1f">
      Time [day / month]
    </text>
  )
}

const yTitle = (label: string, cx: number) => (props: any) => {
  const vb = props.viewBox
  const cy = vb.y + vb.height / 2
  return (
    <text x={cx} y={cy} transform={`rotate(-90, ${cx}, ${cy})`} textAnchor="middle" dominantBaseline="central"
      fontSize={12} fontFamily={FONT} fill="#1f1f1f">
      {label}
    </text>
  )
}

interface PanelProps {
  top: number
  height: number
  marginTop: number
  xAxisHeight: number
  tickSize: number
  yDomain: [number, number]
  yTicks: number[]
  yLabel: string
  yLabelX: number
  xLabelDy: number
  series: Series[]
  legend: LegendSpec
  arrows?: ArrowSpec[]
}

function Panel({ top, height, marginTop, xAxisHeight, tickSize, yDomain, yTicks, yLabel, yLabelX, xLabelDy, series, legend, arrows = [] }: PanelProps) {
  return (
    <div style={{ position: 'absolute', left: 0, top }}>
      <LineChart width={1125} height={height} margin={{ top: marginTop, right: 0, bottom: 0, left: 0 }}>
        <CartesianGrid vertical={false} stroke="#333" strokeDasharray="3 2" />
        <CartesianGrid horizontal={false} stroke="#333" strokeDasharray="2 2" />
        <XAxis
          dataKey="day" type="number" domain={dayDomain} ticks={dayTicks} interval={0} allowDataOverflow
          tickFormatter={fmtDay} tickLine={false} tickSize={tickSize} tickMargin={2} height={xAxisHeight}
          axisLine={{ stroke: '#000' }} tick={tickStyle} label={xTitle(xLabelDy)}
        />
        <YAxis
          type="number" domain={yDomain} ticks={yTicks} interval={0} allowDataOverflow
          tickLine={false} tickSize={3} tickMargin={2} width={57}
          axisLine={{ stroke: '#000' }} tick={tickStyle} label={yTitle(yLabel, yLabelX)}
        />
        <ReferenceLine y={yDomain[1]} stroke="#000" />
        {series.map((s) => (
          <Line
            key={s.name} data={toRows(s.points)} dataKey="value" name={s.name} type="linear"
            stroke={s.color} strokeWidth={1} dot={false} activeDot={false} isAnimationActive={false}
          />
        ))}
        {arrows.map((a, i) => (
          <ReferenceLine key={i} segment={[a.from, a.to]} shape={ArrowShape} ifOverflow="visible" />
        ))}
        <Legend
          layout="vertical" align="center" verticalAlign="middle"
          wrapperStyle={{ left: legend.left, top: legend.top, width: legend.width, height: legend.height }}
          content={() => <LegendBox series={series} spec={legend} />}
        />
      </LineChart>
    </div>
  )
}

const tempSeries: Series[] = [
  { name: 'Tair Measured', color: RED, points: tairMeas },
  { name: 'Twindow Meas.', color: GREEN, points: twinMeas },
  { name: 'Tair Sim', color: BLUE, points: tairSim },
  { name: 'Twindow Sim', color: PURPLE, points: twinSim },
]

const rhSeries: Series[] = [
  { name: 'RHair Measured', color: RED, points: rhAirMeas },
  { name: 'RHwindow Meas.', color: GREEN, points: rhWinMeas },
  { name: 'RHair Sim', color: BLUE, points: rhAirSim },
  { name: 'RHwindow Sim', color: PURPLE, points: rhWinSim },
]

const shSeries: Series[] = [
  { name: 'x Outside', color: GREEN, points: xOutside },
  { name: 'x Measured', color: RED, points: xMeas },
  { name: 'x Sim', color: BLUE, points: xSim },
  { name: 'x Measured-x Sim', color: BLACK, points: xDiff },
]

export default function App() {
  return (
    <div style={{ position: 'absolute', left: 0, top: 0, width: 1125, height: 1104, background: '#fff', fontFamily: FONT }}>
      <Panel
        top={0} height={345} marginTop={16} xAxisHeight={38} tickSize={4}
        yDomain={[2, 24]} yTicks={tempTicks} yLabel="Temperature [ºC]" yLabelX={24} xLabelDy={26}
        series={tempSeries}
        legend={{ left: 992, top: 16, width: 140, height: 63, padTop: 0.75, rowH: 14.5, lineX1: 6, lineX2: 28, textX: 36, fontSize: 12.3 }}
      />
      <Panel
        top={345} height={345} marginTop={16} xAxisHeight={38} tickSize={4}
        yDomain={[40, 100]} yTicks={rhTicks} yLabel="Relative Humidity [% RH]" yLabelX={17} xLabelDy={24}
        series={rhSeries}
        legend={{ left: 968, top: 155, width: 146, height: 62, padTop: 1.1, rowH: 14.35, lineX1: 6, lineX2: 28, textX: 37, fontSize: 12.4 }}
      />
      <Panel
        top={690} height={414} marginTop={20} xAxisHeight={36} tickSize={5}
        yDomain={[-1.5, 10]} yTicks={shTicks} yLabel="Specific humidity  [g/kg]" yLabelX={24} xLabelDy={29}
        series={shSeries}
        legend={{ left: 973, top: 26, width: 146, height: 69, padTop: 1.35, rowH: 15.9, lineX1: 6, lineX2: 29, textX: 34, fontSize: 13 }}
        arrows={peakArrows}
      />
    </div>
  )
}
